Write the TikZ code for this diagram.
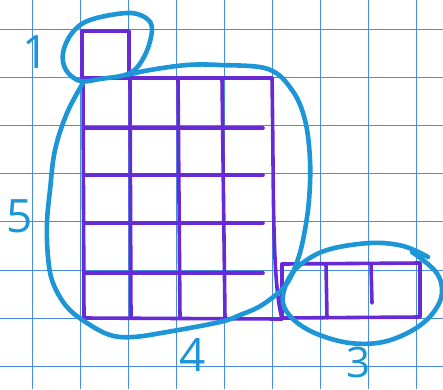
\documentclass[tikz,border=0pt]{standalone}
\usepackage{fontspec}
\setmainfont{Open Sans}
\definecolor{gridblue}{RGB}{70,140,225}
\definecolor{violet}{RGB}{104,42,214}
\definecolor{loopblue}{RGB}{28,150,214}
\tikzset{
  paper/.style={draw=gridblue, line width=1pt},
  purp/.style={draw=violet, line width=3.6pt, line cap=round, line join=round},
  loop/.style={draw=loopblue, line width=4.6pt, line cap=round, line join=round},
  lbl/.style={text=loopblue, font=\fontsize{46}{46}\selectfont, inner sep=0pt, text height=33pt, text depth=0pt}
}
\begin{document}
\begin{tikzpicture}[x=1pt,y=-1pt]
\useasboundingbox (0,0) rectangle (443,389);
\fill[white] (0,0) rectangle (443,389);
% graph paper
\foreach \gx in {32,80,128,176,224,272,320,368,416}
  \draw[paper] (\gx,0) -- (\gx,389);
\foreach \gy in {29,77,125,173,221.5,270,318,366.5}
  \draw[paper] (0,\gy) -- (443,\gy);
% single square
\draw[purp] (82,78) -- (82,31) -- (129,31) -- (129,78);
% 4x5 block
\draw[purp] (83,78) -- (272,78);
\draw[purp] (83,78) -- (84,318) -- (282,319);
\draw[purp] (272,78) .. controls (274,200) and (272,280) .. (282,319);
\foreach \ry in {128,175,223,273}
  \draw[purp] (84,\ry) -- (263,\ry);
\draw[purp] (130,78) -- (131,318);
\draw[purp] (178,78) -- (180,318);
\draw[purp] (222,78) -- (225,318);
% row of 3
\draw[purp] (282,264) -- (420,263) -- (420,317) -- (282,318);
\draw[purp] (282,264) -- (282,318);
\draw[purp] (326,264) -- (327,318);
\draw[purp] (371,264) -- (372,303);
% loops
\draw[loop] plot[smooth cycle, tension=0.6] coordinates {(80,81)(66,70)(63,53)(72,33)(90,20)(127,13)(146,18)(152,30)(145,55)(130,73)(100,79)};
\draw[loop] plot[smooth, tension=0.6] coordinates {(127,75)(150,70)(187,65)(220,65)(268,69)(292,90)(305,120)(310,160)(309,200)(304,235)(297,262)(285,286)(262,305)(240,315)(220,322)(167,332)(133,337)(110,335)(87,323)(67,307)(53,283)(48,257)(47,223)(50,190)(55,150)(67,113)(83,83)};
\draw[loop] plot[smooth, tension=0.6] coordinates {(412,252)(436,272)(442,293)(433,313)(413,330)(383,342)(350,343)(317,334)(294,320)(283,303)(287,282)(300,265)(327,250)(370,243)(403,246)(428,257)};
% labels
\node[lbl] (n1) at (36,52) {1};
\node[lbl] (n5) at (20,216) {5};
\node[lbl] (n4) at (193,355) {4};
\node[lbl, font=\fontsize{42}{42}\selectfont, text height=30pt] (n3) at (358,362) {3};
\end{tikzpicture}
\end{document}
